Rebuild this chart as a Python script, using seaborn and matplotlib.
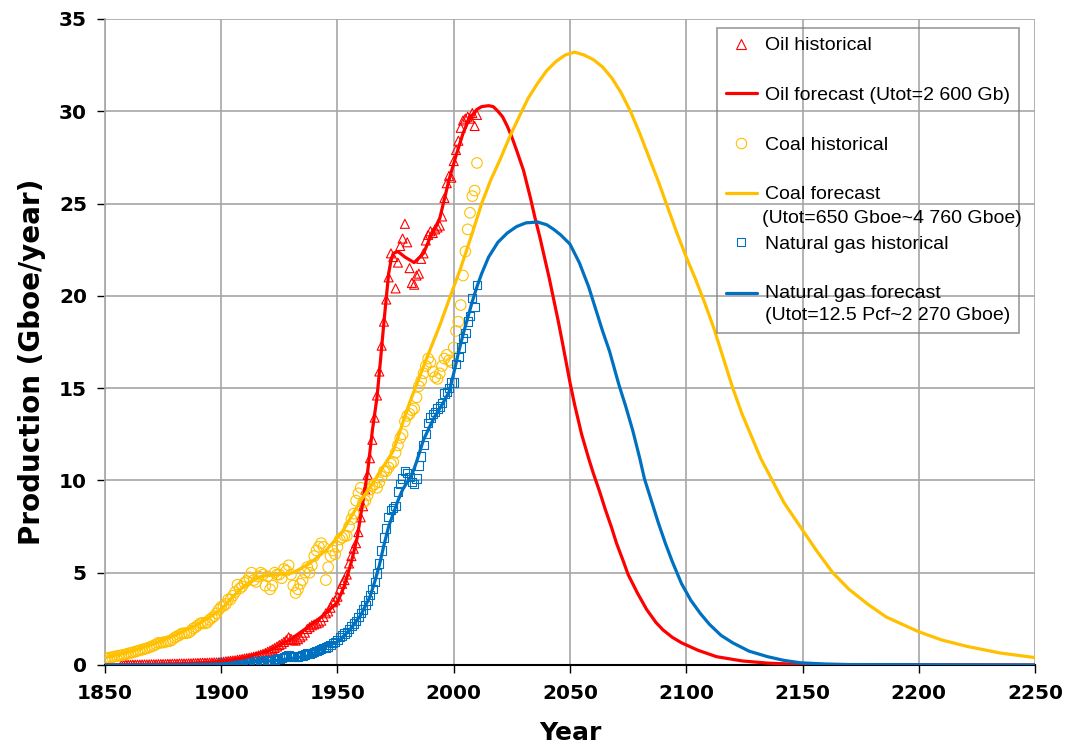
import numpy as np
import matplotlib
matplotlib.use("Agg")
import matplotlib.pyplot as plt
import matplotlib.transforms as mtransforms
from matplotlib.lines import Line2D
from matplotlib.legend_handler import HandlerLine2D
from matplotlib.font_manager import FontProperties
import seaborn as sns

# ---------------- data ----------------
oil_hist_years = list(range(1857, 2011))
oil_hist = [
    0.00, 0.00, 0.01, 0.01, 0.01, 0.02, 0.02, 0.02, 0.02, 0.03, 0.03, 0.03, 0.03,
    0.04, 0.04, 0.04, 0.05, 0.05, 0.05, 0.05, 0.06, 0.06, 0.07,
    0.07, 0.07, 0.08, 0.08, 0.08, 0.08, 0.09, 0.09, 0.10, 0.10,
    0.11, 0.11, 0.12, 0.12, 0.12, 0.13, 0.13, 0.14, 0.14, 0.15,
    0.16, 0.18, 0.20, 0.21, 0.23, 0.24, 0.25, 0.28, 0.30, 0.32,
    0.35, 0.37, 0.39, 0.42, 0.45, 0.48, 0.52, 0.56, 0.60, 0.65,
    0.72, 0.78, 0.85, 0.92, 1.00, 1.08, 1.15, 1.25, 1.35, 1.50,
    1.42, 1.35, 1.32, 1.40, 1.50, 1.60, 1.75, 1.95, 2.05, 2.15,
    2.20, 2.25, 2.30, 2.40, 2.60, 2.80, 2.90, 3.10, 3.40, 3.50,
    3.70, 4.10, 4.40, 4.60, 4.90, 5.50, 5.90, 6.30, 6.60, 7.20,
    8.00, 8.60, 9.50, 10.30, 11.20, 12.20, 13.40, 14.60, 15.90, 17.30,
    18.60, 19.80, 21.00, 22.30, 22.10, 20.40, 21.80, 22.70, 23.10, 23.90,
    22.90, 21.50, 20.70, 20.60, 21.10, 21.20, 22.00, 22.30, 23.00, 23.30,
    23.50, 23.40, 23.60, 23.70, 23.80, 24.30, 25.30, 26.10, 26.50, 26.40,
    27.30, 27.90, 28.40, 29.10, 29.50, 29.60, 29.70, 29.60, 29.90, 29.20, 29.80,
]

coal_hist_years = list(range(1850, 2011))
coal_hist = [
    0.35, 0.38, 0.40, 0.42, 0.45, 0.48, 0.50, 0.52, 0.55, 0.58,
    0.62, 0.65, 0.68, 0.72, 0.76, 0.80, 0.83, 0.87, 0.90, 0.95,
    1.00, 1.05, 1.12, 1.20, 1.20, 1.22, 1.25, 1.28, 1.30, 1.38,
    1.48, 1.55, 1.62, 1.70, 1.72, 1.72, 1.75, 1.85, 1.98, 2.05,
    2.15, 2.25, 2.28, 2.25, 2.30, 2.45, 2.55, 2.65, 2.80, 3.00,
    3.15, 3.20, 3.30, 3.55, 3.55, 3.75, 3.95, 4.35, 4.15, 4.25,
    4.45, 4.55, 4.75, 5.00, 4.60, 4.50, 4.80, 5.00, 4.90, 4.30,
    4.80, 4.10, 4.30, 5.00, 4.90, 4.90, 4.70, 5.20, 5.10, 5.40,
    4.90, 4.30, 3.90, 4.10, 4.40, 4.60, 5.00, 5.30, 5.00, 5.40,
    5.90, 6.20, 6.40, 6.60, 6.40, 4.60, 5.30, 5.90, 6.20, 6.00,
    6.40, 6.80, 6.90, 7.00, 7.00, 7.50, 7.90, 8.20, 8.90, 9.30,
    9.60, 8.80, 8.90, 9.20, 9.50, 9.70, 9.80, 9.60, 9.90, 10.20,
    10.50, 10.50, 10.70, 10.90, 11.00, 11.50, 11.90, 12.30, 12.50, 13.20,
    13.50, 13.60, 13.80, 13.90, 14.50, 15.10, 15.40, 15.80, 16.20, 16.60,
    16.40, 15.90, 15.60, 15.50, 15.80, 16.20, 16.60, 16.80, 16.50, 16.40,
    17.20, 18.10, 18.60, 19.50, 21.10, 22.40, 23.60, 24.50, 25.40, 25.70, 27.20,
]

gas_hist_years = list(range(1900, 2011))
gas_hist = [
    0.08, 0.09, 0.09, 0.10, 0.10, 0.11, 0.12, 0.12, 0.13, 0.14,
    0.15, 0.16, 0.17, 0.18, 0.18, 0.19, 0.21, 0.22, 0.23, 0.24,
    0.25, 0.25, 0.27, 0.30, 0.32, 0.35, 0.38, 0.42, 0.46, 0.52,
    0.50, 0.46, 0.44, 0.45, 0.48, 0.52, 0.57, 0.62, 0.60, 0.65,
    0.70, 0.75, 0.80, 0.85, 0.92, 0.95, 1.00, 1.10, 1.20, 1.25,
    1.35, 1.50, 1.60, 1.70, 1.80, 1.95, 2.10, 2.25, 2.40, 2.60,
    2.80, 3.00, 3.25, 3.50, 3.80, 4.10, 4.50, 4.95, 5.50, 6.20,
    6.90, 7.40, 8.00, 8.40, 8.50, 8.60, 9.40, 9.80, 10.10, 10.50,
    10.40, 10.20, 9.90, 9.80, 10.10, 10.80, 11.30, 11.90, 12.50, 13.10,
    13.40, 13.60, 13.70, 13.90, 14.00, 14.20, 14.70, 14.80, 15.00, 15.30,
    15.30, 16.30, 16.70, 17.20, 17.70, 18.00, 18.60, 18.90, 19.90, 19.40, 20.60,
]

oil_fc_years = [1850, 1860, 1870, 1880, 1890, 1900, 1910, 1920, 1930, 1940, 1945,
                1950, 1953, 1956, 1958.5, 1961, 1963, 1965, 1967, 1968.5, 1970,
                1972, 1973, 1974, 1976, 1979, 1983, 1987, 1990, 1994, 1998, 2001,
                2004, 2006, 2008, 2010, 2012, 2015, 2017, 2019, 2021, 2023, 2025,
                2027, 2030, 2033, 2035, 2037, 2039, 2041, 2043, 2045, 2047, 2050,
                2052, 2055, 2058, 2060, 2063, 2065, 2068, 2070, 2073, 2075, 2079,
                2083, 2087, 2090, 2094, 2098, 2105, 2113, 2124, 2135, 2150, 2250]
oil_fc = [0.0, 0.01, 0.03, 0.05, 0.10, 0.20, 0.40, 0.75, 1.4, 2.3, 2.8,
          3.4, 4.3, 5.6, 6.9, 8.9, 10.5, 12.7, 14.5, 16.5, 18.6,
          21.2, 21.9, 22.3, 22.4, 22.1, 21.8, 22.3, 23.2, 24.2, 26.3, 27.6,
          28.8, 29.4, 29.8, 30.1, 30.25, 30.3, 30.25, 30.0, 29.7, 29.2, 28.6,
          27.9, 26.8, 25.3, 24.2, 23.2, 22.1, 21.0, 19.8, 18.6, 17.3, 15.3,
          14.1, 12.5, 11.2, 10.4, 9.3, 8.5, 7.4, 6.6, 5.6, 4.9, 3.9,
          3.0, 2.3, 1.9, 1.5, 1.2, 0.8, 0.45, 0.22, 0.10, 0.03, 0.0]

gas_fc_years = [1850, 1880, 1900, 1924, 1938, 1945, 1950, 1955, 1960, 1962, 1964,
                1966, 1968, 1970, 1972, 1974, 1976, 1978, 1980, 1982, 1984, 1987,
                1990, 1992, 1995, 1998, 2000, 2002, 2004, 2006, 2008, 2010, 2012,
                2015, 2019, 2023, 2027, 2031, 2036, 2040, 2043, 2046, 2050, 2054,
                2058, 2061, 2064, 2067, 2071, 2074, 2077, 2080, 2082, 2085, 2088,
                2091, 2094, 2098, 2102, 2106, 2110, 2115, 2120, 2127, 2135, 2142,
                2149, 2160, 2170, 2250]
gas_fc = [0.0, 0.01, 0.05, 0.25, 0.5, 1.0, 1.25, 1.85, 2.7, 3.2, 3.7,
          4.5, 5.4, 6.5, 7.5, 8.2, 8.9, 9.5, 9.9, 10.3, 11.0, 12.2,
          13.0, 13.5, 14.1, 14.8, 15.8, 16.9, 17.9, 18.8, 19.7, 20.5, 21.2,
          22.1, 22.9, 23.4, 23.75, 23.95, 24.0, 23.85, 23.6, 23.3, 22.8, 21.8,
          20.5, 19.3, 18.1, 17.0, 15.2, 14.0, 12.7, 11.2, 10.1, 8.9, 7.7,
          6.6, 5.6, 4.4, 3.5, 2.8, 2.2, 1.6, 1.2, 0.75, 0.45, 0.25,
          0.12, 0.05, 0.02, 0.0]

coal_fc_years = [1850, 1860, 1870, 1880, 1890, 1900, 1905, 1910, 1917, 1924, 1931,
                 1938, 1945, 1952, 1960, 1967, 1974, 1981, 1988, 1994, 1998.6,
                 2002.7, 2008, 2012, 2016, 2020, 2024, 2028.5, 2032, 2036, 2040,
                 2044, 2048, 2052, 2056, 2060, 2064, 2068, 2072, 2076, 2080, 2084,
                 2088, 2092, 2096, 2100, 2104, 2108, 2112, 2116, 2120, 2124, 2128,
                 2132, 2137, 2142, 2149, 2156, 2163, 2170, 2178, 2186, 2193, 2200,
                 2210, 2221, 2235, 2250]
coal_fc = [0.4, 0.7, 1.1, 1.6, 2.2, 3.0, 3.7, 4.3, 4.8, 4.9, 5.0,
           5.5, 6.2, 7.2, 8.9, 10.2, 11.6, 14.2, 16.5, 18.4, 20.0,
           21.4, 23.4, 25.0, 26.3, 27.4, 28.6, 29.8, 30.7, 31.5, 32.2,
           32.7, 33.05, 33.2, 33.05, 32.8, 32.4, 31.8, 31.0, 30.0, 28.8, 27.5,
           26.2, 24.8, 23.4, 22.1, 20.9, 19.6, 18.2, 16.6, 15.0, 13.6, 12.4,
           11.2, 10.0, 8.8, 7.5, 6.2, 5.0, 4.1, 3.3, 2.6, 2.2, 1.8,
           1.35, 1.0, 0.65, 0.4]

x_ticks = [1850, 1900, 1950, 2000, 2050, 2100, 2150, 2200, 2250]
y_ticks = [0, 5, 10, 15, 20, 25, 30, 35]

legend_labels = [
    "Oil historical",
    "Oil forecast (Utot=2 600 Gb)",
    "Coal historical",
    "Coal forecast",
    "Natural gas historical",
    "Natural gas forecast\n(Utot=12.5 Pcf~2 270 Gboe)",
]
coal_fc_second_line = "(Utot=650 Gboe~4 760 Gboe)"

# ---------------- styling ----------------
RED = "#FF0000"
COAL = "#FFC000"
GAS = "#0070C0"
GRID = "#A6A6A6"

sns.set_theme(style="white")
plt.rcParams["font.family"] = ["DejaVu Sans"]

fig = plt.figure(figsize=(10.71, 7.46), dpi=100)
ax = fig.add_axes([0.0980, 0.1086, 0.8684, 0.8660])

LW = 2.3
sns.scatterplot(x=oil_hist_years, y=oil_hist, marker="^", s=42,
                facecolor="none", edgecolor=RED, linewidth=0.8, ax=ax, zorder=3)
sns.lineplot(x=oil_fc_years, y=oil_fc, color=RED, linewidth=LW, ax=ax,
             errorbar=None, zorder=4)
sns.scatterplot(x=coal_hist_years, y=coal_hist, marker="o", s=58,
                facecolor="none", edgecolor=COAL, linewidth=0.8, ax=ax, zorder=3)
sns.lineplot(x=coal_fc_years, y=coal_fc, color=COAL, linewidth=LW, ax=ax,
             errorbar=None, zorder=4)
sns.scatterplot(x=gas_hist_years, y=gas_hist, marker="s", s=36,
                facecolor="none", edgecolor=GAS, linewidth=0.8, ax=ax, zorder=3)
sns.lineplot(x=gas_fc_years, y=gas_fc, color=GAS, linewidth=LW, ax=ax,
             errorbar=None, zorder=4)
for ln in ax.get_lines():
    ln.set_solid_joinstyle("round")

ax.set_xlim(1850, 2250)
ax.set_ylim(0, 35)
ax.set_xticks(x_ticks)
ax.set_yticks(y_ticks)
ax.grid(True, color=GRID, linewidth=1.2)
ax.set_axisbelow(True)

for side in ("top", "right"):
    ax.spines[side].set_visible(False)
ax.spines["left"].set_color(GRID)
ax.spines["left"].set_linewidth(1.2)
ax.spines["bottom"].set_color("black")
ax.spines["bottom"].set_linewidth(1.5)

ax.tick_params(axis="both", which="major", bottom=True, left=True,
               direction="out", length=6, width=1, color="black",
               labelsize=14.5, labelcolor="black")
ax.tick_params(axis="x", pad=8)
ax.tick_params(axis="y", pad=7)
for lab in ax.get_xticklabels() + ax.get_yticklabels():
    lab.set_fontweight("bold")

ax.set_xlabel("Year", fontsize=18, fontweight="bold", color="black")
ax.set_ylabel("Production (Gboe/year)", fontsize=20, fontweight="bold", color="black")
ax.xaxis.set_label_coords(0.5, -0.087)
ax.yaxis.set_label_coords(-0.063, 0.47)


# ---------------- legend ----------------
class FirstLineHandler(HandlerLine2D):
    """Draw the line handle level with the first line of a two-line label."""
    def __init__(self, shift_pts, **kw):
        super().__init__(**kw)
        self.shift = shift_pts

    def create_artists(self, legend, orig_handle, xdescent, ydescent,
                       width, height, fontsize, trans):
        t = mtransforms.Affine2D().translate(0, self.shift) + trans
        return super().create_artists(legend, orig_handle, xdescent, ydescent,
                                      width, height, fontsize, t)


h_oil_h = Line2D([], [], ls="none", marker="^", ms=6.5, mfc="none", mec=RED, mew=0.8)
h_oil_f = Line2D([], [], color=RED, lw=LW)
h_coal_h = Line2D([], [], ls="none", marker="o", ms=7.5, mfc="none", mec=COAL, mew=0.8)
h_coal_f = Line2D([], [], color=COAL, lw=LW)
h_gas_h = Line2D([], [], ls="none", marker="s", ms=6, mfc="none", mec=GAS, mew=0.8)
h_gas_f = Line2D([], [], color=GAS, lw=LW)

leg_font = FontProperties(family="Liberation Sans", size=14)
leg = ax.legend([h_oil_h, h_oil_f, h_coal_h, h_coal_f, h_gas_h, h_gas_f],
                legend_labels, loc="upper left", bbox_to_anchor=(0.658, 0.986),
                borderaxespad=0, frameon=True, fancybox=False, shadow=False,
                prop=leg_font, labelspacing=1.65, handlelength=1.6,
                handletextpad=0.4, borderpad=0.45,
                handler_map={h_gas_f: FirstLineHandler(8.6)})
leg.get_frame().set_facecolor("none")
leg.get_frame().set_edgecolor("#808080")
leg.get_frame().set_linewidth(1.2)
for t in leg.get_texts():
    t.set_linespacing(1.4)
    t.set_color("black")

ax.annotate(coal_fc_second_line, xy=(0, 0), xycoords=leg.get_texts()[3],
            xytext=(-3, -20), textcoords="offset pixels", va="baseline",
            ha="left", fontproperties=leg_font, color="black", zorder=6,
            annotation_clip=False)

fig.savefig("out.png", dpi=100)
